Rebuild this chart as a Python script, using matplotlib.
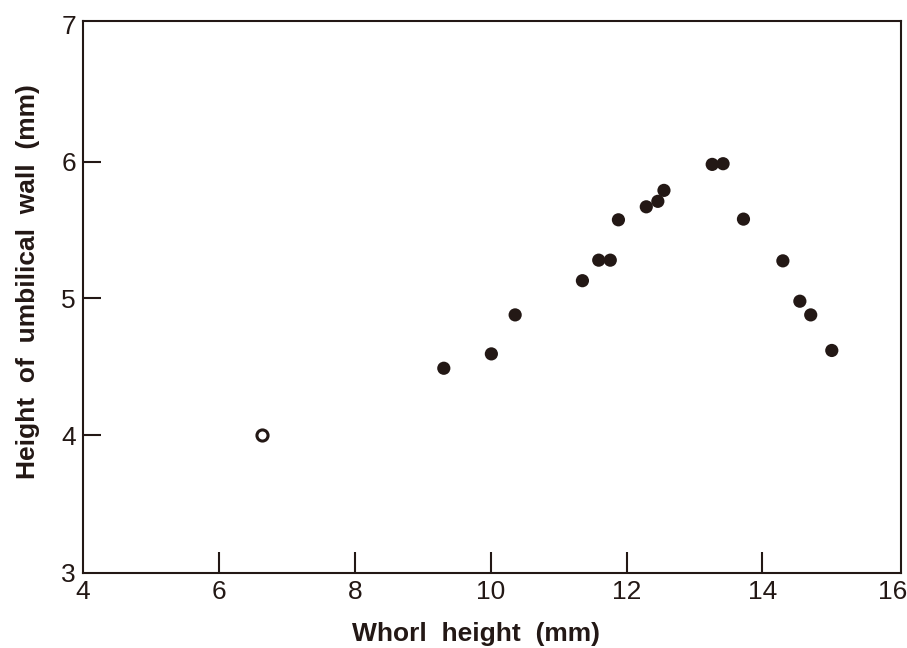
import matplotlib
matplotlib.use("Agg")
import matplotlib.pyplot as plt
from matplotlib.transforms import ScaledTranslation

plt.rcParams['font.family'] = ['Liberation Sans', 'DejaVu Sans']

# Data
open_x = [6.63]
open_y = [4.00]
filled_x = [9.31, 10.01, 10.36, 11.35, 11.59, 11.76, 11.88, 12.29, 12.46, 12.55,
            13.26, 13.42, 13.72, 14.30, 14.55, 14.71, 15.02]
filled_y = [4.49, 4.595, 4.88, 5.13, 5.28, 5.28, 5.575, 5.67, 5.71, 5.79,
            5.98, 5.985, 5.58, 5.275, 4.98, 4.88, 4.62]
x_ticks = [4, 6, 8, 10, 12, 14, 16]
y_ticks = [3, 4, 5, 6, 7]

ink = '#231815'

fig = plt.figure(figsize=(9.07, 6.48), dpi=100)
ax = fig.add_axes([0.0915, 0.115, 0.902, 0.853])

ax.scatter(filled_x, filled_y, s=9.5**2, color=ink, edgecolors='none', zorder=3)
ax.scatter(open_x, open_y, s=8**2, facecolors='white', edgecolors=ink, linewidths=2.2, zorder=3)

ax.set_xlim(4, 16.04)
ax.set_ylim(2.99, 7.03)
ax.set_xticks(x_ticks)
ax.set_yticks(y_ticks)
ax.set_xticklabels([str(t) for t in x_ticks])
ax.set_yticklabels([str(t) for t in y_ticks])

for s in ax.spines.values():
    s.set_linewidth(1.5)
    s.set_color(ink)

ax.tick_params(axis='x', direction='in', length=15, width=1.5, color=ink,
               labelsize=19, pad=5, labelcolor=ink)
ax.tick_params(axis='y', direction='in', length=13, width=1.5, color=ink,
               labelsize=19, pad=5, labelcolor=ink)

# hide tick marks that coincide with the frame
for t in (ax.xaxis.get_major_ticks()[0], ax.xaxis.get_major_ticks()[-1],
          ax.yaxis.get_major_ticks()[0], ax.yaxis.get_major_ticks()[-1]):
    t.tick1line.set_visible(False)

# keep the last x label inside the figure
last = ax.get_xticklabels()[-1]
last.set_transform(last.get_transform() + ScaledTranslation(-6 / 100, 0, fig.dpi_scale_trans))

ax.set_xlabel('Whorl  height  (mm)', fontsize=19, fontweight='bold', color=ink)
ax.set_ylabel('Height  of  umbilical  wall  (mm)', fontsize=19, fontweight='bold', color=ink)
ax.xaxis.set_label_coords(0.48, -0.088)
ax.yaxis.set_label_coords(-0.052, 0.529)

fig.savefig('out.png', dpi=100)
